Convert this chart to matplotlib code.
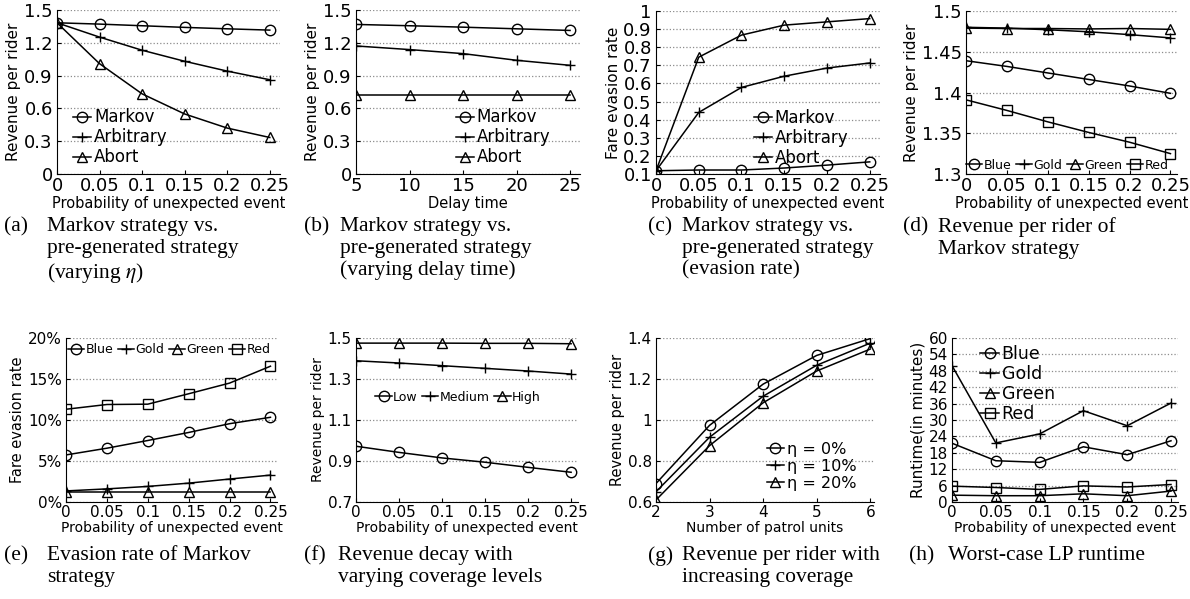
import matplotlib
matplotlib.use("Agg")
import matplotlib.pyplot as plt
from matplotlib.ticker import FormatStrFormatter

plt.rcParams['font.family'] = ['DejaVu Sans']
plt.rcParams['mathtext.fontset'] = 'stix'

# data
prob = [0, 0.05, 0.1, 0.15, 0.2, 0.25]
delay = [5, 10, 15, 20, 25]
units = [2, 3, 4, 5, 6]

a_markov = [1.383, 1.371, 1.356, 1.341, 1.328, 1.316]
a_arbitrary = [1.383, 1.252, 1.132, 1.031, 0.941, 0.862]
a_abort = [1.383, 1.009, 0.733, 0.549, 0.42, 0.334]

b_markov = [1.368, 1.356, 1.343, 1.328, 1.313]
b_arbitrary = [1.171, 1.138, 1.101, 1.04, 0.994]
b_abort = [0.724, 0.724, 0.724, 0.724, 0.724]

c_markov = [0.118, 0.122, 0.122, 0.133, 0.149, 0.167]
c_arbitrary = [0.118, 0.44, 0.578, 0.64, 0.685, 0.713]
c_abort = [0.118, 0.745, 0.867, 0.922, 0.94, 0.958]

d_blue = [1.439, 1.432, 1.424, 1.416, 1.408, 1.399]
d_gold = [1.480, 1.479, 1.477, 1.4745, 1.471, 1.467]
d_green = [1.479, 1.4785, 1.4785, 1.478, 1.4785, 1.4775]
d_red = [1.391, 1.378, 1.364, 1.351, 1.339, 1.325]

e_blue = [5.74, 6.56, 7.5, 8.48, 9.55, 10.33]
e_gold = [1.35, 1.6, 1.9, 2.3, 2.8, 3.28]
e_green = [1.25, 1.25, 1.25, 1.25, 1.25, 1.25]
e_red = [11.31, 11.89, 11.93, 13.2, 14.5, 16.56]

f_low = [0.972, 0.942, 0.915, 0.894, 0.869, 0.845]
f_medium = [1.389, 1.378, 1.365, 1.352, 1.339, 1.324]
f_high = [1.475, 1.475, 1.475, 1.474, 1.474, 1.472]

g_eta0 = [0.69, 0.974, 1.175, 1.315, 1.397]
g_eta10 = [0.65, 0.916, 1.116, 1.267, 1.375]
g_eta20 = [0.61, 0.875, 1.084, 1.239, 1.346]

h_blue = [21.5, 15.1, 14.5, 20.2, 17.3, 22.4]
h_gold = [49.9, 21.6, 24.9, 33.4, 27.9, 36.2]
h_green = [2.5, 2.3, 2.3, 3.0, 2.3, 4.0]
h_red = [5.8, 5.3, 4.6, 5.9, 5.5, 6.4]

prob_ticks = ['0', '0.05', '0.1', '0.15', '0.2', '0.25']
xlab_prob = 'Probability of unexpected event'

W, H = 1190, 599
fig = plt.figure(figsize=(W / 100, H / 100), dpi=100)


def px_axes(l, t, r, b):
    return fig.add_axes([l / W, 1 - b / H, (r - l) / W, (b - t) / H])


def style(ax, tsize):
    for s in ['top', 'right']:
        ax.spines[s].set_visible(False)
    ax.grid(axis='y', linestyle=':', color='0.55', linewidth=0.9)
    ax.set_axisbelow(True)
    ax.tick_params(direction='in', length=3, labelsize=tsize, pad=2)
    ax.tick_params(axis='y', pad=3)
    ax.yaxis.set_major_formatter(FormatStrFormatter('%g'))


mk = dict(color='black', linewidth=1.1, markersize=7.5,
          markerfacecolor='none', markeredgecolor='black', markeredgewidth=1.0)
leg_v = dict(frameon=False, handlelength=1.1, handletextpad=0.15,
             labelspacing=0.12, borderpad=0.2)
leg_h = dict(frameon=False, handlelength=1.3, handletextpad=0.12,
             columnspacing=0.35, borderpad=0.2)

# ---------- (a)
ax = px_axes(57, 10, 280, 174)
ax.plot(prob, a_markov, marker='o', label='Markov', **mk)
ax.plot(prob, a_arbitrary, marker='+', label='Arbitrary', **mk)
ax.plot(prob, a_abort, marker='^', label='Abort', **mk)
ax.set_xlim(0, 0.262)
ax.set_ylim(0, 1.5)
ax.set_yticks([0, 0.3, 0.6, 0.9, 1.2, 1.5])
ax.set_xticks(prob)
ax.set_xticklabels(prob_ticks)
style(ax, 13)
ax.set_xlabel(xlab_prob, fontsize=10.5, labelpad=1)
ax.set_ylabel('Revenue per rider', fontsize=11, labelpad=2)
ax.legend(loc='lower left', bbox_to_anchor=(0.02, -0.025), fontsize=12, **leg_v)

# ---------- (b)
ax = px_axes(356, 10, 580, 174)
ax.plot(delay, b_markov, marker='o', label='Markov', **mk)
ax.plot(delay, b_arbitrary, marker='+', label='Arbitrary', **mk)
ax.plot(delay, b_abort, marker='^', label='Abort', **mk)
ax.set_xlim(5, 25.93)
ax.set_ylim(0, 1.5)
ax.set_yticks([0, 0.3, 0.6, 0.9, 1.2, 1.5])
ax.set_xticks(delay)
style(ax, 13)
ax.set_xlabel('Delay time', fontsize=10.5, labelpad=1)
ax.set_ylabel('Revenue per rider', fontsize=11, labelpad=2)
ax.legend(loc='lower right', bbox_to_anchor=(0.92, -0.025), fontsize=12, **leg_v)

# ---------- (c)
ax = px_axes(656, 11, 880, 174)
ax.plot(prob, c_markov, marker='o', label='Markov', **mk)
ax.plot(prob, c_arbitrary, marker='+', label='Arbitrary', **mk)
ax.plot(prob, c_abort, marker='^', label='Abort', **mk)
ax.set_xlim(0, 0.262)
ax.set_ylim(0.1, 1.0)
ax.set_yticks([0.1, 0.2, 0.3, 0.4, 0.5, 0.6, 0.7, 0.8, 0.9, 1.0])
ax.set_xticks(prob)
ax.set_xticklabels(prob_ticks)
style(ax, 13)
ax.set_xlabel(xlab_prob, fontsize=10.5, labelpad=1)
ax.set_ylabel('Fare evasion rate', fontsize=11, labelpad=2)
ax.legend(loc='lower right', bbox_to_anchor=(0.91, -0.03), fontsize=12, **leg_v)

# ---------- (d)
ax = px_axes(966, 11, 1177, 174)
ax.plot(prob, d_blue, marker='o', label='Blue', **mk)
ax.plot(prob, d_gold, marker='+', label='Gold', **mk)
ax.plot(prob, d_green, marker='^', label='Green', **mk)
ax.plot(prob, d_red, marker='s', label='Red', **mk)
ax.set_xlim(0, 0.258)
ax.set_ylim(1.3, 1.5)
ax.set_yticks([1.3, 1.35, 1.4, 1.45, 1.5])
ax.set_xticks(prob)
ax.set_xticklabels(prob_ticks)
style(ax, 13)
ax.set_xlabel(xlab_prob, fontsize=10.5, labelpad=1)
ax.set_ylabel('Revenue per rider', fontsize=11, labelpad=2)
ax.legend(loc='lower center', bbox_to_anchor=(0.48, -0.04), fontsize=9, ncol=4, **leg_h)

# ---------- (e)
ax = px_axes(66, 338, 277, 502)
ax.plot(prob, e_blue, marker='o', label='Blue', **mk)
ax.plot(prob, e_gold, marker='+', label='Gold', **mk)
ax.plot(prob, e_green, marker='^', label='Green', **mk)
ax.plot(prob, e_red, marker='s', label='Red', **mk)
ax.set_xlim(0, 0.258)
ax.set_ylim(0, 20)
ax.set_yticks([0, 5, 10, 15, 20])
ax.set_xticks(prob)
ax.set_xticklabels(prob_ticks)
style(ax, 11)
ax.yaxis.set_major_formatter(FormatStrFormatter('%d%%'))
ax.set_xlabel(xlab_prob, fontsize=10, labelpad=1)
ax.set_ylabel('Fare evasion rate', fontsize=10.5, labelpad=2)
ax.legend(loc='upper center', bbox_to_anchor=(0.49, 1.02), fontsize=9, ncol=4, **leg_h)

# ---------- (f)
ax = px_axes(356, 338, 578, 502)
ax.plot(prob, f_low, marker='o', label='Low', **mk)
ax.plot(prob, f_medium, marker='+', label='Medium', **mk)
ax.plot(prob, f_high, marker='^', label='High', **mk)
ax.set_xlim(0, 0.258)
ax.set_ylim(0.7, 1.5)
ax.set_yticks([0.7, 0.9, 1.1, 1.3, 1.5])
ax.set_xticks(prob)
ax.set_xticklabels(prob_ticks)
style(ax, 11)
ax.set_xlabel(xlab_prob, fontsize=10, labelpad=1)
ax.set_ylabel('Revenue per rider', fontsize=10, labelpad=2)
ax.legend(loc='center', bbox_to_anchor=(0.46, 0.64), fontsize=9, ncol=3, **leg_h)

# ---------- (g)
ax = px_axes(656, 338, 874, 502)
ax.plot(units, g_eta0, marker='o', label='η = 0%', **mk)
ax.plot(units, g_eta10, marker='+', label='η = 10%', **mk)
ax.plot(units, g_eta20, marker='^', label='η = 20%', **mk)
ax.set_xlim(2, 6.07)
ax.set_ylim(0.6, 1.4)
ax.set_yticks([0.6, 0.8, 1.0, 1.2, 1.4])
ax.set_xticks(units)
style(ax, 11)
ax.set_xlabel('Number of patrol units', fontsize=10, labelpad=1)
ax.set_ylabel('Revenue per rider', fontsize=10.5, labelpad=2)
ax.legend(loc='lower right', bbox_to_anchor=(0.97, 0.0), fontsize=11.5, **leg_v)

# ---------- (h)
ax = px_axes(952, 338, 1178, 502)
ax.plot(prob, h_blue, marker='o', label='Blue', **mk)
ax.plot(prob, h_gold, marker='+', label='Gold', **mk)
ax.plot(prob, h_green, marker='^', label='Green', **mk)
ax.plot(prob, h_red, marker='s', label='Red', **mk)
ax.set_xlim(0, 0.258)
ax.set_ylim(0, 60)
ax.set_yticks(list(range(0, 61, 6)))
ax.set_xticks(prob)
ax.set_xticklabels(prob_ticks)
style(ax, 11)
ax.set_xlabel(xlab_prob, fontsize=10, labelpad=1)
ax.set_ylabel('Runtime(in minutes)', fontsize=11, labelpad=2)
ax.legend(loc='upper left', bbox_to_anchor=(0.07, 1.03), fontsize=12.5, **leg_v)

# ---------- captions
cap = dict(family=['Liberation Serif', 'DejaVu Serif'], fontsize=15.5, va='top',
           ha='left', linespacing=1.2)
captions = [
    (4, 47, 217, '(a)', 'Markov strategy vs.\npre-generated strategy\n(varying $\\eta$)'),
    (304, 340, 217, '(b)', 'Markov strategy vs.\npre-generated strategy\n(varying delay time)'),
    (648, 682, 217, '(c)', 'Markov strategy vs.\npre-generated strategy\n(evasion rate)'),
    (903, 938, 217, '(d)', 'Revenue per rider of\nMarkov strategy'),
    (4, 47, 546, '(e)', 'Evasion rate of Markov\nstrategy'),
    (304, 338, 546, '(f)', 'Revenue decay with\nvarying coverage levels'),
    (648, 682, 546, '(g)', 'Revenue per rider with\nincreasing coverage'),
    (909, 948, 546, '(h)', 'Worst-case LP runtime'),
]
for xl, xt, yt, lab, txt in captions:
    fig.text(xl / W, 1 - yt / H, lab, **cap)
    fig.text(xt / W, 1 - yt / H, txt, **cap)

fig.savefig('out.png', dpi=100)
